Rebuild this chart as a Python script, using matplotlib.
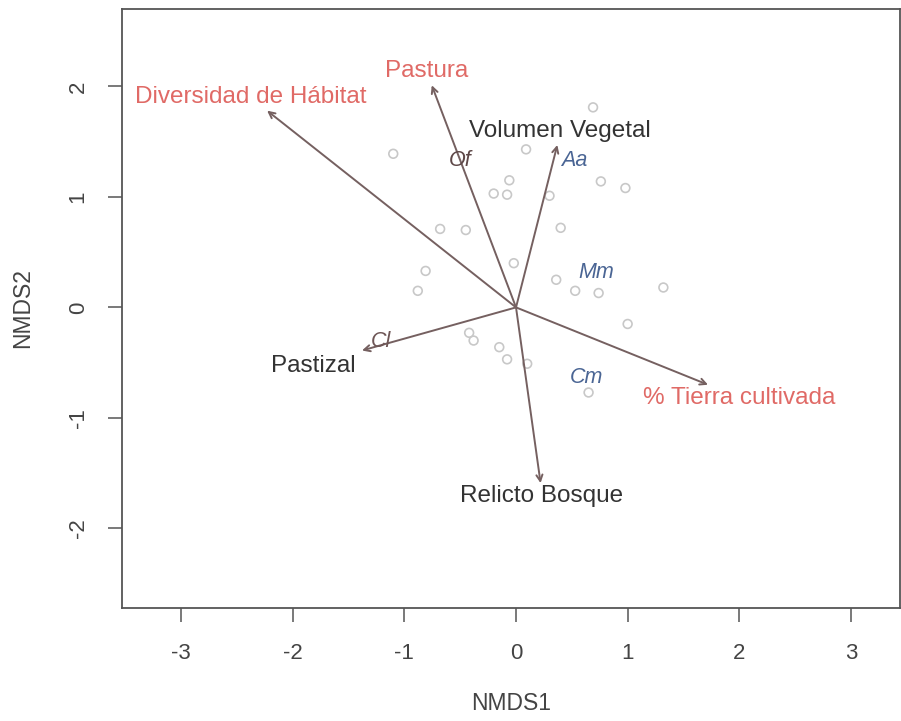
import numpy as np
import matplotlib
matplotlib.use('Agg')
from matplotlib import pyplot as plt

plt.rcParams['font.family'] = ['Liberation Sans', 'DejaVu Sans']
plt.rcParams['axes.unicode_minus'] = False

# sitios (puntos grises)
site_x = [0.69, -1.10, 0.09, -0.06, -0.20, -0.08, 0.76, 0.98, 0.30, -0.68, -0.45, 0.40, -0.02,
          -0.81, -0.88, 0.36, 0.53, 0.74, 1.32, 1.00, -0.42, -0.38, -0.15, -0.08, 0.10, 0.65]
site_y = [1.81, 1.39, 1.43, 1.15, 1.03, 1.02, 1.14, 1.08, 1.01, 0.71, 0.70, 0.72, 0.40,
          0.33, 0.15, 0.25, 0.15, 0.13, 0.18, -0.15, -0.23, -0.30, -0.36, -0.47, -0.51, -0.77]

# vectores ambientales
var_names = ['Diversidad de Hábitat', 'Pastura', 'Volumen Vegetal', 'Pastizal',
             'Relicto Bosque', '% Tierra cultivada']
var_x = [-2.23, -0.755, 0.37, -1.38, 0.22, 1.72]
var_y = [1.78, 2.01, 1.47, -0.39, -1.59, -0.70]
lab_x = [-2.38, -0.80, 0.39, -1.82, 0.23, 2.00]
lab_y = [1.90, 2.14, 1.60, -0.53, -1.71, -0.82]
var_col = ['#e06a66', '#e06a66', '#333333', '#333333', '#333333', '#e06a66']

# especies
sp_names = ['Of', 'Aa', 'Mm', 'Cm', 'Cl']
sp_x = [-0.50, 0.52, 0.72, 0.63, -1.21]
sp_y = [1.33, 1.33, 0.32, -0.63, -0.31]
sp_col = ['#5e4848', '#4a6594', '#4a6594', '#4a6594', '#6e5656']

fig = plt.figure(figsize=(9.01, 7.21), dpi=100)
ax = fig.add_axes([122/901, 1-608/721, (900-122)/901, (608-9)/721])

ax.scatter(site_x, site_y, s=40, facecolors='none', edgecolors='#c8c8c8', linewidths=1.2, zorder=1)

for i in range(len(var_names)):
    ax.annotate('', xy=(var_x[i], var_y[i]), xytext=(0, 0),
                arrowprops=dict(arrowstyle='->', color='#756060', lw=1.4,
                                shrinkA=0, shrinkB=0, mutation_scale=11), zorder=2)
    ax.text(lab_x[i], lab_y[i], var_names[i], color=var_col[i], fontsize=17.5,
            ha='center', va='center', zorder=3)

for i in range(len(sp_names)):
    ax.text(sp_x[i], sp_y[i], sp_names[i], color=sp_col[i], fontsize=15.5, style='italic',
            ha='center', va='center', zorder=3)

ax.set_xlim(-3.53, 3.44)
ax.set_ylim(-2.72, 2.70)
ax.set_xticks([-3, -2, -1, 0, 1, 2, 3])
ax.set_yticks([-2, -1, 0, 1, 2])
ax.set_yticklabels(['-2', '-1', '0', '1', '2'], rotation=90, va='center')
ax.tick_params(direction='out', length=10, width=1.1, color='#555555', labelcolor='#444444',
               labelsize=16)
ax.tick_params(axis='x', pad=15)
ax.tick_params(axis='y', pad=14)
for s in ax.spines.values():
    s.set_color('#555555')
    s.set_linewidth(1.3)

ax.set_xlabel('NMDS1', fontsize=16.5, color='#444444', labelpad=20)
ax.set_ylabel('NMDS2', fontsize=16.5, color='#444444', labelpad=24)

fig.savefig('out.png', dpi=100)
